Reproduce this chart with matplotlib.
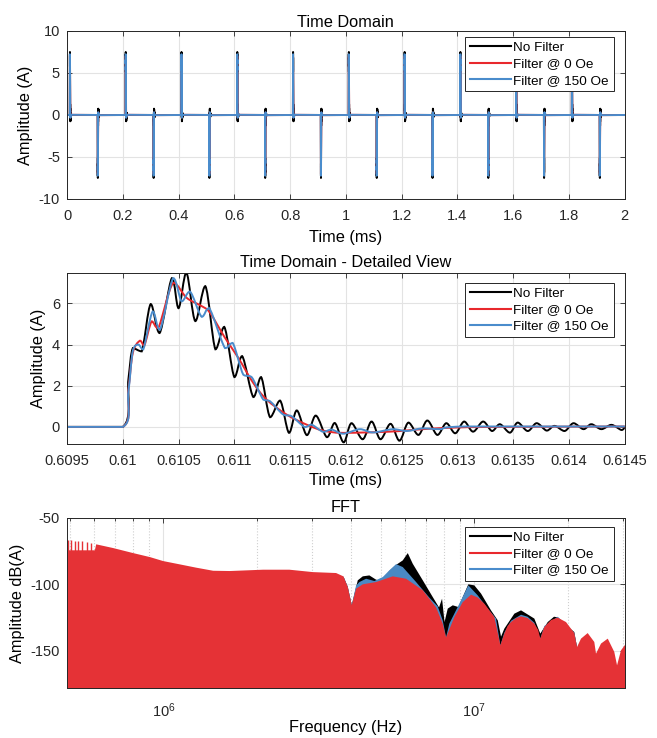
import numpy as np
import matplotlib
matplotlib.use("Agg")
from matplotlib import pyplot as plt
from matplotlib.path import Path
from matplotlib.patches import PathPatch
from matplotlib.lines import Line2D
from matplotlib.ticker import FuncFormatter, NullFormatter, LogLocator

plt.rcParams['font.family'] = ['Liberation Sans', 'DejaVu Sans']
plt.rcParams['axes.unicode_minus'] = False

BLACK = '#000000'
RED = '#e8282c'
BLUE = '#4a8ccc'
RED_FILL = '#e53236'
BLUE_FILL = '#4a89c3'
AX_COLOR = '#262626'
GRID_COLOR = '#e3e3e3'

labels = ["No Filter", "Filter @ 0 Oe", "Filter @ 150 Oe"]

# ---- detailed view of one pulse (ms, A) ----
nofilt_t = [0.6095, 0.6100, 0.61005, 0.61009, 0.61017, 0.61025, 0.61033, 0.61044, 0.61050,
            0.61057, 0.61065, 0.61074, 0.61083, 0.61091, 0.61100, 0.61107, 0.61117, 0.61124,
            0.61132, 0.61141, 0.61149, 0.61156, 0.61165, 0.61173, 0.61183, 0.61190, 0.61198,
            0.61205, 0.61215, 0.61223, 0.61231, 0.61240, 0.61248, 0.61256, 0.61265, 0.61273,
            0.61282, 0.61290, 0.61298, 0.61306, 0.61314, 0.61323, 0.61331, 0.61338, 0.61347,
            0.61354, 0.61363, 0.61371, 0.61380, 0.61387, 0.61396, 0.61404, 0.61413, 0.61420,
            0.61429, 0.61438, 0.61447, 0.6145]
nofilt_y = [0, 0, 2.3, 3.83, 3.67, 5.97, 4.56, 7.23, 5.77,
            7.5, 5.14, 6.84, 3.77, 4.86, 2.42, 3.44, 1.45, 2.42,
            0.47, 1.28, -0.29, 0.80, -0.40, 0.55, -0.50, 0.19, -0.75,
            0.18, -0.60, 0.26, -0.60, 0.15, -0.67, 0.21, -0.39, 0.31,
            -0.39, 0.18, -0.31, 0.26, -0.23, 0.26, -0.20, 0.13, -0.28,
            0.21, -0.20, 0.18, -0.18, 0.05, -0.20, 0.18, -0.11, 0.13,
            -0.11, 0.10, -0.15, 0.0]

filt0_t = [0.6095, 0.6100, 0.61005, 0.61009, 0.610154, 0.610193, 0.610259, 0.610318, 0.610452,
           0.610573, 0.610707, 0.610781, 0.610916, 0.611035, 0.611169, 0.611289, 0.611468,
           0.611648, 0.611796, 0.611976, 0.612394, 0.61269, 0.612992, 0.61338, 0.6145]
filt0_y = [0, 0, 1.8, 3.6, 4.19, 3.96, 5.13, 4.80, 7.0,
           6.27, 5.87, 5.55, 4.33, 3.36, 2.14, 1.33, 0.60,
           0.11, -0.18, -0.29, -0.23, -0.11, -0.03, 0.0, 0.02]

filt150_t = [0.6095, 0.6100, 0.61005, 0.61009, 0.610139, 0.610184, 0.610268, 0.610333, 0.610452,
             0.610528, 0.610602, 0.610707, 0.610775, 0.610916, 0.610985, 0.611080, 0.611155,
             0.611259, 0.611319, 0.611438, 0.611513, 0.611632, 0.611692, 0.611796, 0.611871,
             0.611976, 0.612125, 0.612242, 0.612421, 0.612544, 0.61269, 0.612842, 0.613081, 0.6145]
filt150_y = [0, 0, 1.7, 3.7, 4.0, 3.77, 5.61, 4.72, 7.23,
             6.1, 6.58, 5.35, 5.77, 3.83, 4.08, 2.54, 2.42,
             1.33, 1.25, 0.6, 0.52, -0.01, 0.11, -0.24, -0.13,
             -0.33, -0.11, -0.27, -0.11, -0.2, -0.07, -0.11, 0.02, 0.02]

# ---- pulse train (ms) ----
pulse_starts = [0.01, 0.11, 0.21, 0.31, 0.41, 0.51, 0.61, 0.71, 0.81, 0.91,
                1.01, 1.11, 1.21, 1.31, 1.41, 1.51, 1.61, 1.71, 1.81, 1.91]
pulse_signs = [1, -1, 1, -1, 1, -1, 1, -1, 1, -1,
               1, -1, 1, -1, 1, -1, 1, -1, 1, -1]

# ---- FFT envelopes (Hz, dB(A)) ----
fft_red_f = [4.9e5, 6.0e5, 6.06e5, 6.87e5, 7.97e5, 9.02e5, 9.95e5, 1.126e6, 1.273e6, 1.441e6,
             1.630e6, 2.086e6, 2.534e6, 3.014e6, 3.581e6, 3.780e6, 3.905e6, 4.022e6, 4.153e6,
             4.364e6, 4.815e6, 5.449e6, 6.013e6, 6.806e6, 7.51e6, 7.887e6, 8.087e6, 8.600e6,
             9.15e6, 9.73e6, 1.022e7, 1.074e7, 1.156e7, 1.209e7, 1.245e7, 1.275e7, 1.308e7,
             1.36e7, 1.409e7, 1.479e7, 1.555e7, 1.60e7, 1.625e7, 1.674e7, 1.759e7, 1.849e7,
             1.966e7, 2.090e7, 2.133e7, 2.197e7, 2.308e7, 2.424e7, 2.455e7, 2.548e7, 2.678e7,
             2.811e7, 2.869e7, 2.954e7, 3.066e7]
fft_red_db = [-74, -74, -69.5, -72.3, -76.1, -79.1, -82.1, -84.6, -87.1, -89.4,
              -89.6, -88.6, -88.6, -90.4, -91.1, -93.6, -101.6, -115.4, -102.9,
              -99.6, -97.9, -93.6, -95.4, -104.1, -117, -129.2, -139.6, -124.2,
              -113, -107.4, -109.5, -114.2, -124.2, -145.5, -136.7, -131, -128,
              -125, -123.7, -125, -129.2, -134, -140.5, -131.7, -126.5, -124.7,
              -128, -136.3, -146.8, -140.5, -136.3, -143.0, -151.8, -144.2, -140.5,
              -150.5, -160.6, -149.3, -144.2]

fft_blue_f = [3.780e6, 3.905e6, 4.022e6, 4.153e6, 4.256e6, 4.472e6, 4.756e6, 5.062e6, 5.314e6,
              5.585e6, 5.868e6, 6.477e6, 7.145e6, 7.603e6, 7.887e6, 8.087e6, 8.285e6, 8.814e6,
              9.538e6, 1.022e7, 1.101e7, 1.171e7, 1.209e7, 1.245e7, 1.308e7, 1.409e7, 1.479e7,
              1.555e7, 1.625e7, 1.674e7, 1.849e7, 2.090e7, 2.133e7]
fft_blue_db = [-93.6, -101.6, -115.4, -100.5, -97.9, -95.4, -97.1, -94.1, -89.1,
               -84.4, -86.6, -97.9, -109.6, -116.2, -126.7, -139.5, -129.2, -116.7,
               -100.4, -107.9, -117.9, -125.4, -145.5, -136, -127, -122.5, -124,
               -128.5, -140.5, -131, -124, -136, -146.8]

fft_black_f = [3.780e6, 3.905e6, 4.022e6, 4.205e6, 4.364e6, 4.583e6, 4.815e6, 5.0e6, 5.314e6,
               5.585e6, 5.868e6, 6.090e6, 6.318e6, 6.806e6, 7.328e6, 7.677e6, 7.850e6, 7.996e6,
               8.188e6, 8.498e6, 8.857e6, 9.538e6, 9.970e6, 1.048e7, 1.128e7, 1.186e7, 1.215e7,
               1.245e7, 1.341e7, 1.409e7, 1.555e7, 1.625e7, 1.717e7, 1.799e7, 1.849e7, 1.966e7,
               2.090e7, 2.133e7]
fft_black_db = [-93.6, -101.6, -115.4, -96.6, -93.6, -92.9, -96.1, -97.1, -89.5,
                -85, -81.6, -76.1, -84.1, -96.6, -109.2, -117, -110.4, -128,
                -117.9, -115.4, -116.7, -99.6, -100.4, -106.6, -119.2, -126.7, -139,
                -133, -121.7, -119.2, -125.4, -136.7, -128, -124, -124.5, -130.4,
                -135.5, -146.8]

# individual harmonics visible at the low end of the spectrum
harm_f = [4.93e5, 5.06e5, 5.186e5, 5.314e5, 5.49e5, 5.667e5, 5.84e5]
harm_db = [-66.5, -66.7, -67.0, -67.3, -67.7, -68.1, -68.6]


def smooth_path(x, y):
    """Courbe de Bezier passant par les points lus (tangentes bornees)"""
    x = np.asarray(x, float)
    y = np.asarray(y, float)
    n = len(x)
    verts = [(x[0], y[0])]
    codes = [Path.MOVETO]
    for i in range(n - 1):
        a = max(i - 1, 0)
        b = min(i + 2, n - 1)
        c1x = x[i] + (x[i + 1] - x[a]) / 6
        c1y = y[i] + (y[i + 1] - y[a]) / 6
        c2x = x[i + 1] - (x[b] - x[i]) / 6
        c2y = y[i + 1] - (y[b] - y[i]) / 6
        lo, hi = min(y[i], y[i + 1]), max(y[i], y[i + 1])
        c1y = min(max(c1y, lo), hi)
        c2y = min(max(c2y, lo), hi)
        verts += [(c1x, c1y), (c2x, c2y), (x[i + 1], y[i + 1])]
        codes += [Path.CURVE4] * 3
    return Path(verts, codes)


def pulse_train(shape_t, shape_y):
    t_all, y_all = [0.0], [0.0]
    for start, sign in zip(pulse_starts, pulse_signs):
        t_all += [start + (t - 0.61) for t in shape_t]
        y_all += [sign * v for v in shape_y]
    t_all.append(2.0)
    y_all.append(0.0)
    return t_all, y_all


def style_axes(ax):
    ax.tick_params(direction='in', top=True, right=True, length=3.5, width=0.6,
                   labelsize=10.5, colors=AX_COLOR, pad=5)
    ax.tick_params(axis='x', pad=7)
    ax.tick_params(which='minor', direction='in', top=True, right=True, length=2, width=0.5)
    for sp in ax.spines.values():
        sp.set_color(AX_COLOR)
        sp.set_linewidth(0.7)
    ax.grid(True, color=GRID_COLOR, linewidth=0.8)
    ax.set_axisbelow(True)


def add_legend(ax, top):
    handles = [Line2D([], [], color=c, lw=1.5) for c in (BLACK, RED, BLUE)]
    leg = ax.legend(handles, labels, loc='upper right', bbox_to_anchor=(0.98, top),
                    borderaxespad=0, fontsize=9.7, handlelength=3.1, handletextpad=0.15,
                    labelspacing=0.28, borderpad=0.35, fancybox=False, framealpha=1)
    leg.get_frame().set_edgecolor(AX_COLOR)
    leg.get_frame().set_linewidth(0.7)


fig = plt.figure(figsize=(6.57, 7.38), dpi=100)
fmt = FuncFormatter(lambda v, p: f"{v:g}")

# ---- Time Domain ----
ax1 = fig.add_axes([0.102, 0.7304, 0.849, 0.2276])
style_axes(ax1)
for (tt, yy), c in zip([pulse_train(nofilt_t, nofilt_y), pulse_train(filt0_t, filt0_y),
                        pulse_train(filt150_t, filt150_y)], (BLACK, RED, BLUE)):
    ax1.plot(tt, yy, color=c, lw=1.4)
ax1.set_xlim(0, 2)
ax1.set_ylim(-10, 10)
ax1.set_xticks([0, 0.2, 0.4, 0.6, 0.8, 1.0, 1.2, 1.4, 1.6, 1.8, 2.0])
ax1.set_yticks([-10, -5, 0, 5, 10])
ax1.xaxis.set_major_formatter(fmt)
ax1.set_title("Time Domain", fontsize=11.8, pad=3)
ax1.set_xlabel("Time (ms)", fontsize=11.8, labelpad=5)
ax1.set_ylabel("Amplitude (A)", fontsize=11.8, labelpad=4)
add_legend(ax1, 0.964)

# ---- Time Domain - Detailed View ----
ax2 = fig.add_axes([0.102, 0.3984, 0.849, 0.2317])
style_axes(ax2)
for tt, yy, c in [(nofilt_t, nofilt_y, BLACK), (filt0_t, filt0_y, RED), (filt150_t, filt150_y, BLUE)]:
    ax2.add_patch(PathPatch(smooth_path(tt, yy), facecolor='none', edgecolor=c, lw=1.4))
ax2.set_xlim(0.6095, 0.6145)
ax2.set_ylim(-0.83, 7.48)
det_ticks = [0.6095, 0.61, 0.6105, 0.611, 0.6115, 0.612, 0.6125, 0.613, 0.6135, 0.614, 0.6145]
ax2.set_xticks(det_ticks)
ax2.set_xticklabels([f"{v:g}" for v in det_ticks])
ax2.set_yticks([0, 2, 4, 6])
ax2.set_title("Time Domain - Detailed View", fontsize=11.8, pad=4)
ax2.set_xlabel("Time (ms)", fontsize=11.8, labelpad=4)
ax2.set_ylabel("Amplitude (A)", fontsize=11.8, labelpad=4)
add_legend(ax2, 0.9415)

# ---- FFT ----
ax3 = fig.add_axes([0.102, 0.0678, 0.849, 0.2304])
style_axes(ax3)
ax3.set_xscale('log')
ax3.grid(True, which='minor', axis='x', color='#cfcfcf', linestyle=':', linewidth=0.8)
ax3.fill_between(fft_black_f, fft_black_db, -200, color=BLACK, lw=0)
ax3.fill_between(fft_blue_f, fft_blue_db, -200, color=BLUE_FILL, lw=0)
ax3.fill_between(fft_red_f, fft_red_db, -200, color=RED_FILL, lw=0)
ax3.vlines(harm_f, -200, harm_db, color=RED_FILL, lw=1.0)
ax3.set_xlim(4.9e5, 3.05e7)
ax3.set_ylim(-178, -50)
ax3.set_yticks([-150, -100, -50])
ax3.xaxis.set_minor_locator(LogLocator(base=10, subs=np.arange(2, 10)))
ax3.xaxis.set_minor_formatter(NullFormatter())
ax3.tick_params(axis='x', pad=10)
ax3.set_title("FFT", fontsize=11.8, pad=4)
ax3.set_xlabel("Frequency (Hz)", fontsize=11.8, labelpad=0)
ax3.set_ylabel("Amplitude dB(A)", fontsize=11.8, labelpad=4)
add_legend(ax3, 0.947)

fig.savefig("out.png", dpi=100)
